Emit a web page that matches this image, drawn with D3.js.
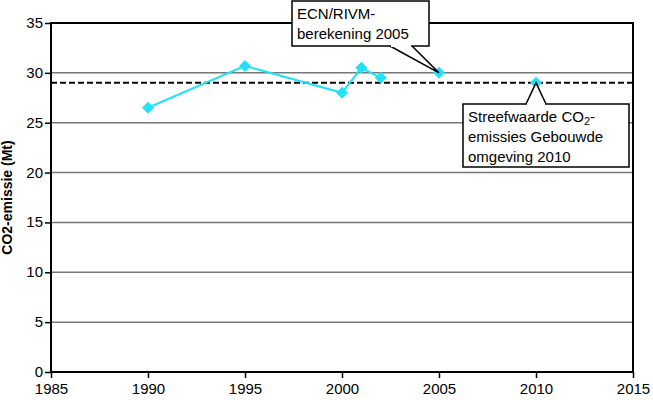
<!DOCTYPE html>
<html>
<head>
<meta charset="utf-8">
<script src="https://cdn.jsdelivr.net/npm/d3@7"></script>
<style>
  body { margin: 0; background: #fff; }
  text { font-family: "Liberation Sans", Arial, sans-serif; }
</style>
</head>
<body>
<div id="chart"></div>
<script>
// Gemeten reeks (verbonden lijn)
const years = [1990, 1995, 2000, 2001, 2002];
const emissions = [26.5, 30.7, 28.0, 30.5, 29.5];
// Losse punten
const ecnYear = 2005, ecnValue = 30.0;
const targetYear = 2010, targetValue = 29.0;
const xTicks = [1985, 1990, 1995, 2000, 2005, 2010, 2015];
const yTicks = [0, 5, 10, 15, 20, 25, 30, 35];

const width = 653, height = 400;
const margin = { top: 23, right: 20, bottom: 28, left: 51 };

const svg = d3.select('#chart').append('svg')
    .attr('width', width)
    .attr('height', height);

const x = d3.scaleLinear().domain([1985, 2015]).range([margin.left, width - margin.right]);
const y = d3.scaleLinear().domain([0, 35]).range([height - margin.bottom, margin.top]);

// Rasterlijnen
svg.append('g')
    .selectAll('line')
    .data(yTicks.filter(d => d > 0 && d < 35))
    .join('line')
    .attr('x1', x(1985)).attr('x2', x(2015))
    .attr('y1', d => y(d)).attr('y2', d => y(d))
    .attr('stroke', '#777')
    .attr('stroke-width', 1.5);

// Kader
svg.append('rect')
    .attr('x', x(1985)).attr('y', y(35))
    .attr('width', x(2015) - x(1985))
    .attr('height', y(0) - y(35))
    .attr('fill', 'none')
    .attr('stroke', '#000')
    .attr('stroke-width', 2);

// Assen
const xAxis = svg.append('g')
    .attr('transform', `translate(0,${y(0)})`)
    .call(d3.axisBottom(x).tickValues(xTicks).tickFormat(d3.format('d')).tickSize(6).tickSizeOuter(0));
const yAxis = svg.append('g')
    .attr('transform', `translate(${x(1985)},0)`)
    .call(d3.axisLeft(y).tickValues(yTicks).tickSize(6).tickSizeOuter(0));

[xAxis, yAxis].forEach(g => {
    g.select('.domain').remove();
    g.selectAll('line').attr('stroke', '#000').attr('stroke-width', 1.5);
    g.selectAll('text').attr('font-size', 15).attr('fill', '#000');
});
xAxis.selectAll('text').attr('dy', '0.9em').attr('y', 8);
yAxis.selectAll('text').attr('x', -8).attr('dy', '0.3em');

// As-titel
svg.append('text')
    .attr('transform', `translate(12,${(y(0) + y(35)) / 2}) rotate(-90)`)
    .attr('text-anchor', 'middle')
    .attr('font-size', 14)
    .attr('font-weight', 'bold')
    .text('CO2-emissie (Mt)');

// Streefwaarde-lijn
svg.append('line')
    .attr('x1', x(1985)).attr('x2', x(2015))
    .attr('y1', y(targetValue)).attr('y2', y(targetValue))
    .attr('stroke', '#000')
    .attr('stroke-width', 2)
    .attr('stroke-dasharray', '6,3');

const cyan = '#22e0f5';
const series = years.map((d, i) => ({ year: d, value: emissions[i] }));

svg.append('path')
    .datum(series)
    .attr('fill', 'none')
    .attr('stroke', cyan)
    .attr('stroke-width', 2)
    .attr('d', d3.line().x(d => x(d.year)).y(d => y(d.value)));

const allPoints = series.concat([
    { year: ecnYear, value: ecnValue },
    { year: targetYear, value: targetValue }
]);

svg.append('g')
    .selectAll('path')
    .data(allPoints)
    .join('path')
    .attr('transform', d => `translate(${x(d.year)},${y(d.value)})`)
    .attr('d', 'M0,-6L6,0L0,6L-6,0Z')
    .attr('fill', cyan);

// Callouts
function callout(box, tip, lines) {
    const g = svg.append('g');
    g.append('path')
        .attr('d', `M${box.px1},${box.py}L${tip[0]},${tip[1]}L${box.px2},${box.py}`)
        .attr('fill', '#fff')
        .attr('stroke', '#000')
        .attr('stroke-width', 1.5);
    g.append('rect')
        .attr('x', box.x).attr('y', box.y)
        .attr('width', box.w).attr('height', box.h)
        .attr('fill', '#fff')
        .attr('stroke', '#000')
        .attr('stroke-width', 1.5);
    // rand tussen de voet van de pijl wegwerken
    g.append('line')
        .attr('x1', box.px1 + 1).attr('x2', box.px2 - 1)
        .attr('y1', box.py).attr('y2', box.py)
        .attr('stroke', '#fff')
        .attr('stroke-width', 2);
    const t = g.append('text')
        .attr('x', box.x + 5)
        .attr('y', box.y + 18)
        .attr('font-size', 15);
    lines.forEach((l, i) => {
        const tsp = t.append('tspan').attr('x', box.x + 5).attr('dy', i === 0 ? 0 : 20);
        if (Array.isArray(l)) {
            l.forEach(part => {
                const s = tsp.append('tspan').text(part.t);
                if (part.sub) s.attr('font-size', 11).attr('dy', 3);
                if (part.after) s.attr('dy', -3);
            });
        } else {
            tsp.text(l);
        }
    });
}

callout({ x: 292, y: 1, w: 137, h: 45, px1: 390, px2: 412, py: 46 },
    [x(ecnYear), y(ecnValue)],
    ['ECN/RIVM-', 'berekening 2005']);

callout({ x: 463, y: 104, w: 166, h: 63, px1: 526, px2: 546, py: 104 },
    [x(targetYear), y(targetValue)],
    [[{ t: 'Streefwaarde CO' }, { t: '2', sub: true }, { t: '-', after: true }],
     'emissies Gebouwde', 'omgeving 2010']);
</script>
</body>
</html>
